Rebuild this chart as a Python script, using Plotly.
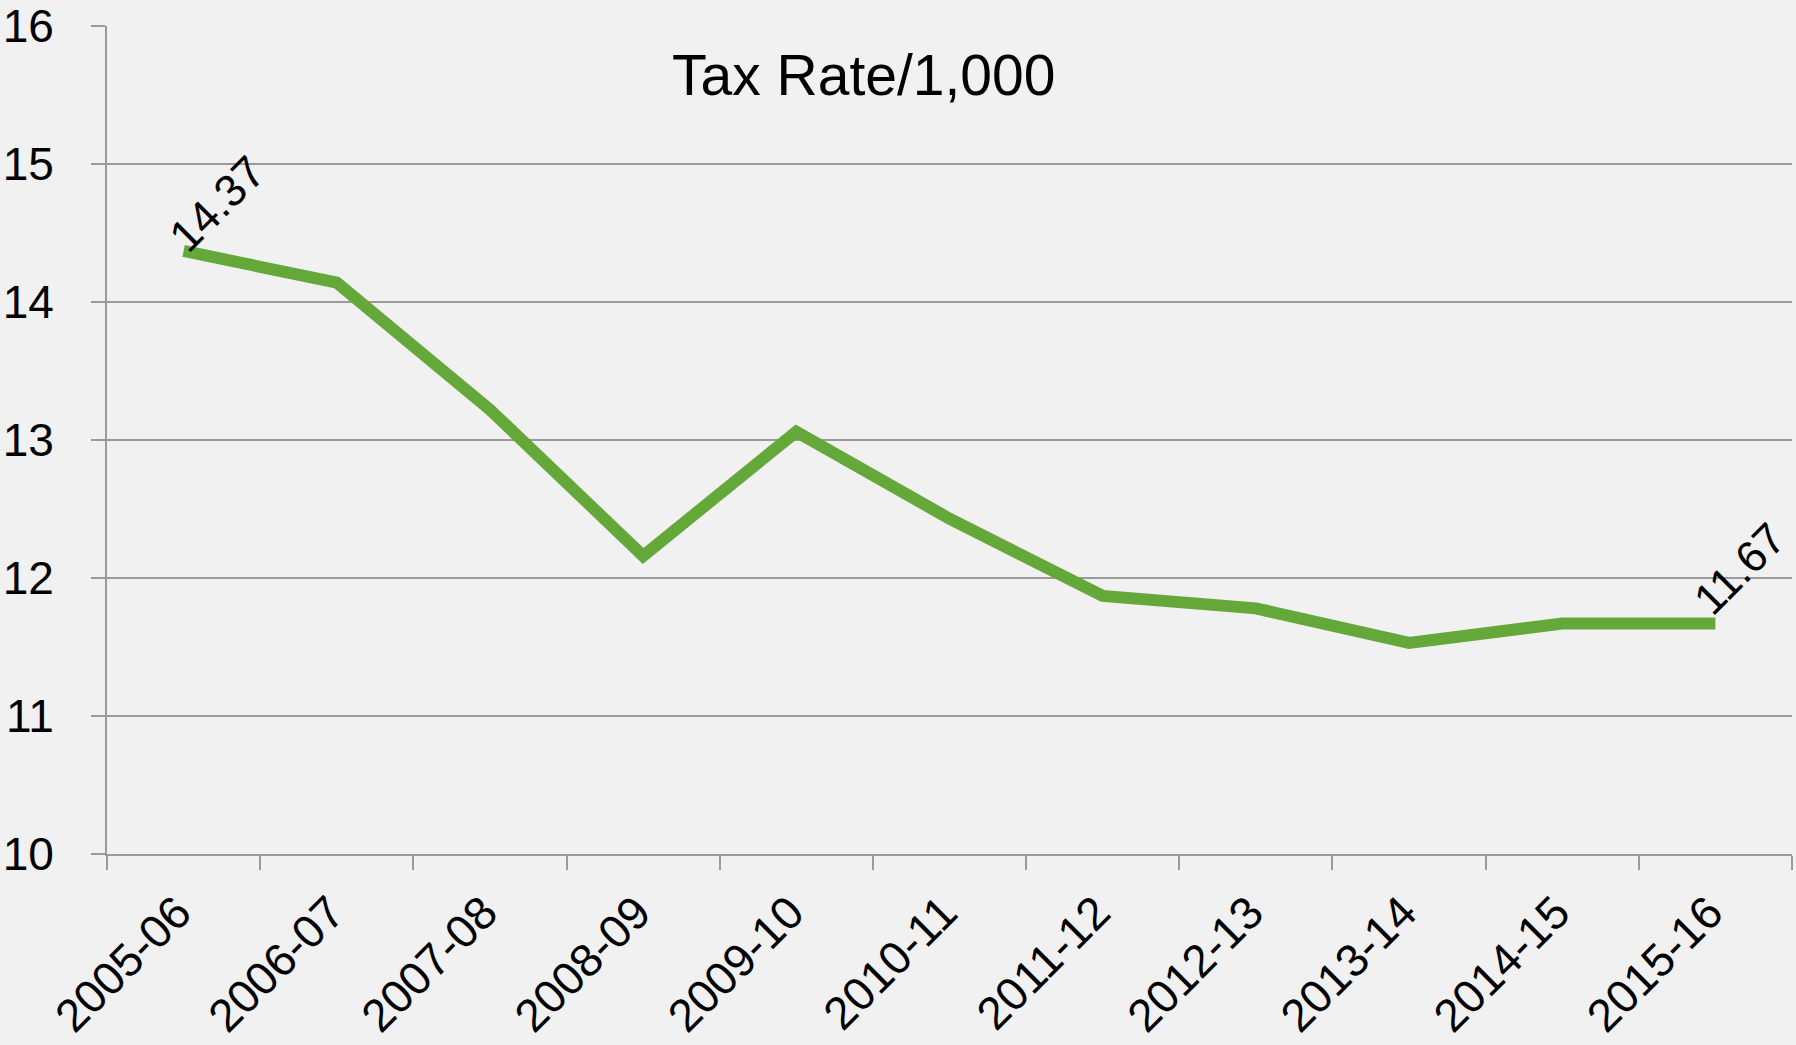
import plotly.graph_objects as go

categories = ["2005-06", "2006-07", "2007-08", "2008-09", "2009-10", "2010-11",
              "2011-12", "2012-13", "2013-14", "2014-15", "2015-16"]
tax_rate = [14.37, 14.14, 13.22, 12.16, 13.06, 12.43, 11.87, 11.78, 11.53, 11.67, 11.67]
y_ticks = [10, 11, 12, 13, 14, 15, 16]
title_text = "Tax Rate/1,000"

FONT = "Liberation Sans"
GRID = "#9a9a9a"
W, H = 1796, 1045
L, R, T, B = 107, 4, 26, 191

fig = go.Figure()
fig.add_trace(go.Scatter(
    x=categories, y=tax_rate, mode="lines",
    line=dict(color="#65a83a", width=12),
    hoverinfo="x+y", showlegend=False,
))

# data labels on first and last point
fig.add_annotation(x=categories[0], y=tax_rate[0], text=f"{tax_rate[0]:.2f}",
                   showarrow=False, textangle=-45, xshift=34, yshift=47,
                   font=dict(family=FONT, size=45, color="#000000"))
fig.add_annotation(x=categories[-1], y=tax_rate[-1], text=f"{tax_rate[-1]:.2f}",
                   showarrow=False, textangle=-45, xshift=24, yshift=55,
                   font=dict(family=FONT, size=44, color="#000000"))

# chart title, placed in paper coords (relative to plot area)
pw, ph = W - L - R, H - T - B
fig.add_annotation(x=(863 - L) / pw, y=(H - B - 75) / ph, xref="paper", yref="paper",
                   xanchor="center", yanchor="middle",
                   text=title_text, showarrow=False,
                   font=dict(family=FONT, size=57, color="#000000"))

fig.update_layout(
    width=W, height=H,
    paper_bgcolor="#f1f1f1", plot_bgcolor="#f1f1f1",
    margin=dict(l=L, r=R, t=T, b=B),
    font=dict(family=FONT, color="#000000"),
)
fig.update_xaxes(
    type="category", tickson="boundaries", ticks="outside", ticklen=14, tickcolor=GRID,
    tickwidth=2, tickangle=-45, tickfont=dict(family=FONT, size=46),
    ticklabelshift=-6, ticklabelstandoff=11, automargin=False,
    showline=True, linecolor=GRID, linewidth=2, showgrid=False, zeroline=False,
    range=[-0.5, len(categories) - 0.5],
)
fig.update_yaxes(
    range=[10, 16], tickvals=y_ticks, ticks="outside", ticklen=14, tickcolor=GRID,
    tickwidth=2, tickfont=dict(family=FONT, size=46), ticklabelstandoff=28,
    automargin=False,
    showline=True, linecolor=GRID, linewidth=2, showgrid=True, gridcolor=GRID,
    gridwidth=2, zeroline=False,
)

fig.write_html("out.html", config={"displayModeBar": False},
               post_script="document.body.style.margin='0';"
               "document.body.style.background='#f1f1f1';"
               "document.body.style.overflow='hidden';")
